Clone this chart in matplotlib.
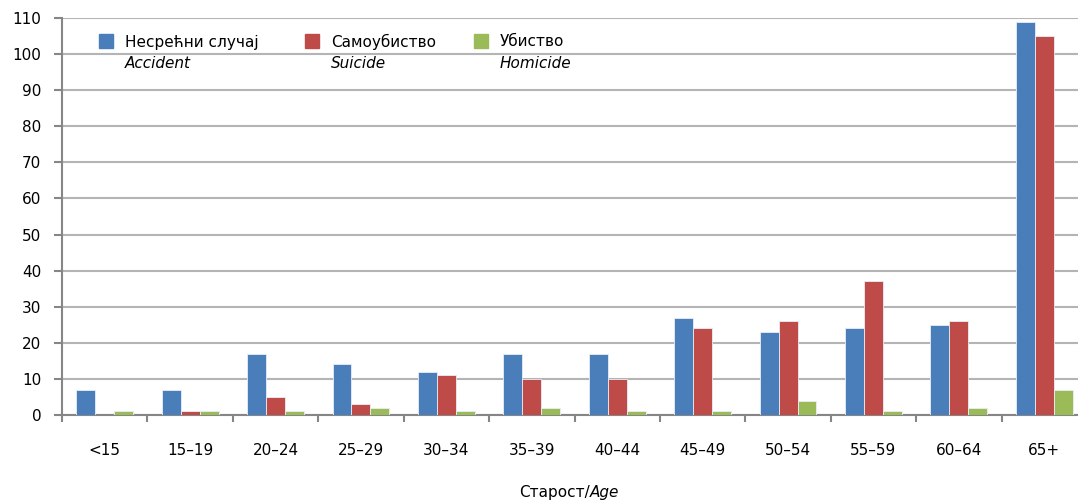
import matplotlib.pyplot as plt
import numpy as np
from matplotlib.patches import Rectangle

# data
ages = ['<15', '15–19', '20–24', '25–29', '30–34', '35–39', '40–44',
        '45–49', '50–54', '55–59', '60–64', '65+']
accident = [7, 7, 17, 14, 12, 17, 17, 27, 23, 24, 25, 109]
suicide = [0, 1, 5, 3, 11, 10, 10, 24, 26, 37, 26, 105]
homicide = [1, 1, 1, 2, 1, 2, 1, 1, 4, 1, 2, 7]

names_sr = ['Несрећни случај', 'Самоубиство', 'Убиство']
names_en = ['Accident', 'Suicide', 'Homicide']
colors = ['#4A7EBB', '#BE4B48', '#9BBB59']

plt.rcParams['font.family'] = ['DejaVu Sans']

fig = plt.figure(figsize=(10.78, 5.04), dpi=100)
# the plot area runs a bit past the right edge of the image, as in the original
ax = fig.add_axes([62/1078, 1 - 415/504, (1087-62)/1078, (415-18)/504])

x = np.arange(len(ages))
w = 0.222
for i, vals in enumerate([accident, suicide, homicide]):
    vals = np.array(vals, dtype=float)
    ax.bar(x + (i - 1) * w, np.where(vals > 0, vals, np.nan), width=w,
           color=colors[i], edgecolor='#e8eef8', linewidth=0.6, zorder=3)

ax.set_xlim(-0.5, len(ages) - 0.5)
ax.set_ylim(0, 110)
ax.set_yticks(range(0, 111, 10))
ax.yaxis.grid(True, color='#b4b4b4', linewidth=1.5, zorder=0)
ax.set_axisbelow(True)

ax.set_xticks(x)
ax.set_xticklabels(ages, fontsize=11)
ax.set_xticks(np.arange(-0.5, len(ages), 1), minor=True)
ax.tick_params(axis='x', which='major', length=0, pad=20)
ax.tick_params(axis='x', which='minor', length=5, width=1.5, color='#868686')
ax.tick_params(axis='y', length=6, width=1.5, color='#868686', labelsize=11,
               pad=9)

for s in ['top', 'right']:
    ax.spines[s].set_visible(False)
for s in ['left', 'bottom']:
    ax.spines[s].set_color('#868686')
    ax.spines[s].set_linewidth(1.5)

# legend drawn by hand: two-line labels
leg_x = [99, 305, 474]
for i in range(3):
    x0 = leg_x[i]
    fig.patches.append(Rectangle((x0/1078, 1 - 48/504), 14/1078, 14/504,
                                 transform=fig.transFigure, color=colors[i]))
    fig.text((x0 + 26)/1078, 1 - 42/504, names_sr[i], fontsize=11,
             va='center', ha='left')
    fig.text((x0 + 26)/1078, 1 - 64/504, names_en[i], fontsize=11,
             va='center', ha='left', style='italic')

# x axis label
fig.text(590/1078, 1 - 492/504, 'Старост/', fontsize=11, ha='right', va='center')
fig.text(590/1078, 1 - 492/504, 'Age', fontsize=11, ha='left', va='center',
         style='italic')

fig.savefig('out.png', dpi=100)
